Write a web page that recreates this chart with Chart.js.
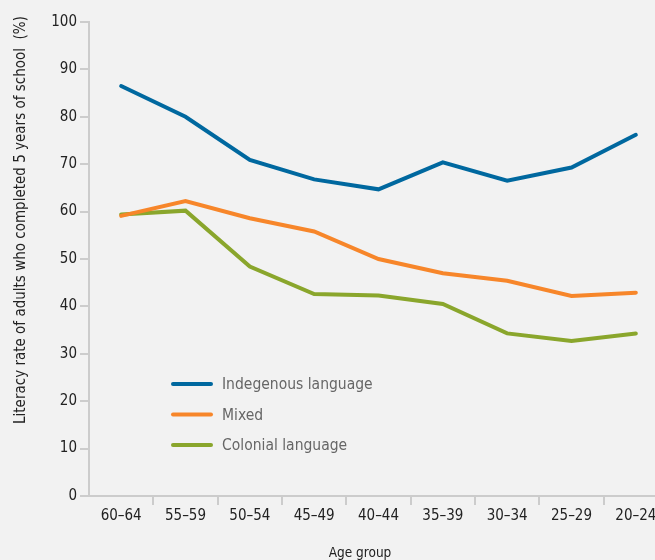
<!DOCTYPE html>
<html>
<head>
<meta charset="utf-8">
<script src="https://cdn.jsdelivr.net/npm/chart.js@4"></script>
<style>
  html, body { margin: 0; padding: 0; background: #f2f2f2; overflow: hidden; }
</style>
</head>
<body>
<canvas id="chart" width="668" height="560"></canvas>
<script>
const ageGroups = ['60–64', '55–59', '50–54', '45–49', '40–44', '35–39', '30–34', '25–29', '20–24'];
const indigenous = [86.5, 80.0, 70.9, 66.8, 64.7, 70.4, 66.5, 69.3, 76.2];
const mixed = [59.1, 62.2, 58.6, 55.8, 50.0, 47.0, 45.4, 42.2, 42.9];
const colonial = [59.4, 60.2, 48.4, 42.6, 42.3, 40.5, 34.3, 32.7, 34.3];
const seriesNames = ['Indegenous language', 'Mixed', 'Colonial language'];
const yTickValues = [0, 10, 20, 30, 40, 50, 60, 70, 80, 90, 100];

const FONT = "'Liberation Sans Narrow', 'DejaVu Sans Condensed', sans-serif";
const AXIS_GREY = '#cccccc';

function series(label, data, color) {
  return {
    label: label,
    data: data,
    borderColor: color,
    backgroundColor: color,
    borderWidth: 4,
    borderCapStyle: 'round',
    pointRadius: 0,
    pointHoverRadius: 0,
    fill: false,
    tension: 0
  };
}

// legend drawn inside the plot, below the lines
const insideLegend = {
  id: 'insideLegend',
  afterDatasetsDraw(chart) {
    const ctx = chart.ctx;
    ctx.save();
    chart.data.datasets.forEach((ds, i) => {
      const y = 384 + i * 30.5;
      ctx.strokeStyle = ds.borderColor;
      ctx.lineWidth = 4;
      ctx.lineCap = 'round';
      ctx.beginPath();
      ctx.moveTo(173, y);
      ctx.lineTo(211, y);
      ctx.stroke();
      ctx.fillStyle = '#666666';
      ctx.font = '15.5px ' + FONT;
      ctx.textBaseline = 'middle';
      ctx.textAlign = 'left';
      ctx.fillText(ds.label, 222, y + 1);
    });
    ctx.restore();
  }
};

// axis titles
const axisTitles = {
  id: 'axisTitles',
  afterDraw(chart) {
    const ctx = chart.ctx;
    ctx.save();
    ctx.fillStyle = '#222222';
    ctx.textAlign = 'center';
    ctx.textBaseline = 'alphabetic';
    ctx.font = '13.5px ' + FONT;
    ctx.fillText('Age group', 360, 557);
    ctx.font = '15px ' + FONT;
    ctx.translate(21, 220);
    ctx.rotate(-Math.PI / 2);
    ctx.textBaseline = 'middle';
    ctx.fillText('Literacy rate of adults who completed 5 years of school  (%)', 0, 0);
    ctx.restore();
  }
};

const data = {
  labels: ageGroups,
  datasets: [
    series(seriesNames[0], indigenous, '#00689f'),
    series(seriesNames[1], mixed, '#f7862a'),
    series(seriesNames[2], colonial, '#8aa62c')
  ]
};

const config = {
  type: 'line',
  data,
  options: {
    responsive: false,
    animation: false,
    layout: {
      padding: { top: 22, left: 0, right: 0, bottom: 0 }
    },
    plugins: {
      legend: { display: false },
      tooltip: { enabled: false }
    },
    scales: {
      x: {
        offset: true,
        grid: {
          offset: true,
          drawOnChartArea: false,
          drawTicks: true,
          tickLength: 9,
          lineWidth: 2,
          color: (c) => c.index === 0 ? 'rgba(0,0,0,0)' : AXIS_GREY
        },
        border: { display: true, color: AXIS_GREY, width: 2 },
        ticks: {
          autoSkip: false,
          maxRotation: 0,
          padding: 2,
          color: '#222222',
          font: { family: FONT, size: 15 }
        },
        afterFit: (scale) => { scale.height = 64; }
      },
      y: {
        min: 0,
        max: 100,
        afterBuildTicks: (scale) => {
          scale.ticks = yTickValues.map(v => ({ value: v }));
        },
        grid: {
          drawOnChartArea: false,
          drawTicks: true,
          tickLength: 9,
          lineWidth: 2,
          color: AXIS_GREY
        },
        border: { display: true, color: AXIS_GREY, width: 2 },
        ticks: {
          padding: 3,
          color: '#222222',
          font: { family: FONT, size: 15 }
        },
        afterFit: (scale) => { scale.width = 89; }
      }
    }
  },
  plugins: [insideLegend, axisTitles]
};

new Chart(document.getElementById('chart'), config);
</script>
</body>
</html>
